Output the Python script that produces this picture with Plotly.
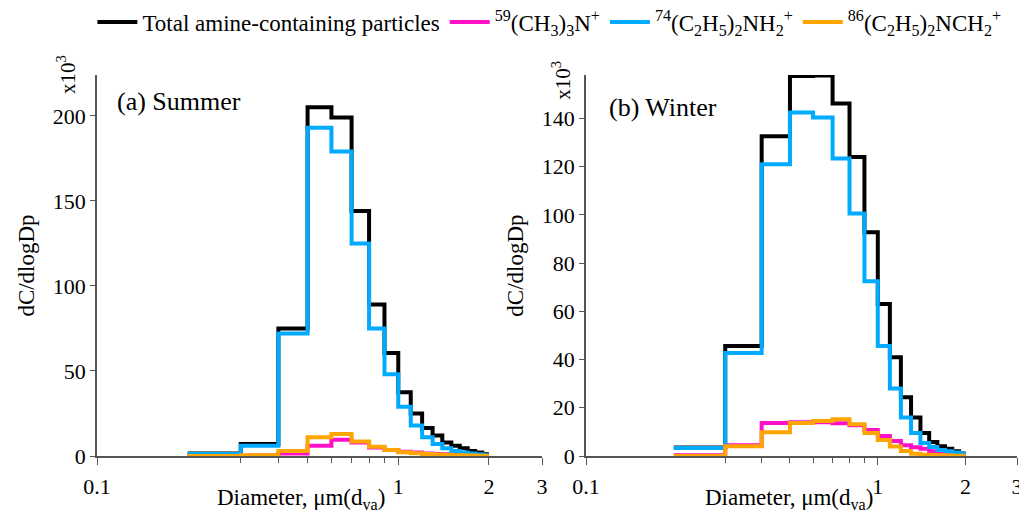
import plotly.graph_objects as go
from plotly.subplots import make_subplots

# ---------------- data ----------------
bin_edges = [0.2, 0.3, 0.4, 0.5, 0.6, 0.7, 0.8, 0.9, 1.0, 1.1, 1.2, 1.3, 1.4,
             1.5, 1.6, 1.7, 1.8, 1.9, 2.0]

series_names = [
    "Total amine-containing particles",
    "<sup>59</sup>(CH<sub>3</sub>)<sub>3</sub>N<sup>+</sup>",
    "<sup>74</sup>(C<sub>2</sub>H<sub>5</sub>)<sub>2</sub>NH<sub>2</sub><sup>+</sup>",
    "<sup>86</sup>(C<sub>2</sub>H<sub>5</sub>)<sub>2</sub>NCH<sub>2</sub><sup>+</sup>",
]
series_colors = ["#000000", "#FF10C8", "#00AAFF", "#FFA500"]

# Summer (x10^3)
summer_total = [1.5, 7, 75, 205, 199, 144, 89, 60.5, 37.5, 25, 16.5, 12, 8, 6, 4.5, 3, 2, 1]
summer_59 = [0, 0.3, 1.5, 6, 9.5, 8, 5, 3.5, 2.5, 2, 1.5, 1.2, 1, 0.8, 0.6, 0.4, 0.3, 0.2]
summer_74 = [1.2, 6, 72, 193, 179, 125, 75, 48, 29, 18, 11, 7, 4.5, 3, 2, 1.5, 1, 0.5]
summer_86 = [0, 0.5, 3, 11, 13, 8.5, 5.5, 3.5, 2.2, 1.6, 1.2, 0.9, 0.7, 0.5, 0.4, 0.3, 0.2, 0.1]

# Winter (x10^3)
winter_total = [3.5, 45.6, 132.6, 157.6, 157.8, 146.2, 124, 92.8, 63, 41, 24.4, 16, 9.5, 5.8, 4, 3, 2, 1]
winter_59 = [0.3, 4.5, 13.7, 14, 14, 13.6, 12.8, 10.8, 8.3, 6.2, 4.5, 3.6, 3, 2, 1.2, 0.8, 0.5, 0.3]
winter_74 = [3.3, 42.7, 121, 142.5, 140.4, 123.4, 100.6, 72.5, 45.6, 28, 16, 9.5, 5.4, 3.7, 2.5, 2, 1.5, 1]
winter_86 = [0, 4, 9.9, 13.7, 14.5, 15.2, 13.2, 9.5, 6.6, 3.9, 2.1, 0.9, 0.5, 0.4, 0.3, 0.2, 0.1, 0.1]

x_tick_vals = [0.1, 1, 2, 3]
x_tick_text = ["0.1", "1", "2", "3"]
x_minor_vals = [0.3, 0.4, 0.5, 0.6, 0.7, 0.8, 0.9]
summer_y_ticks = [0, 50, 100, 150, 200]
winter_y_ticks = [0, 20, 40, 60, 80, 100, 120, 140]
panel_labels = ["(a) Summer", "(b) Winter"]

FONT = "Liberation Serif, Times New Roman, Times, serif"
PAGE_OFFSET = 8  # default body margin of the html page
W, H = 1027 - PAGE_OFFSET, 514 - PAGE_OFFSET

fig = make_subplots(rows=1, cols=2, horizontal_spacing=0.05)

panels = [
    [summer_total, summer_59, summer_74, summer_86],
    [winter_total, winter_59, winter_74, winter_86],
]

for col, data in enumerate(panels, start=1):
    for i, vals in enumerate(data):
        fig.add_trace(
            go.Scatter(
                x=bin_edges,
                y=list(vals) + [vals[-1]],
                mode="lines",
                line=dict(color=series_colors[i], width=4, shape="hv"),
                name=series_names[i],
                legendgroup=str(i),
                showlegend=(col == 1),
                cliponaxis=False,
            ),
            row=1, col=col,
        )

axis_color = "#555555"
common_x = dict(
    type="log",
    range=[-1, 0.4771],
    tickmode="array",
    tickvals=x_tick_vals,
    ticktext=x_tick_text,
    ticks="outside",
    ticklen=7,
    tickcolor=axis_color,
    showline=True,
    linecolor=axis_color,
    linewidth=1.5,
    showgrid=False,
    zeroline=False,
    tickfont=dict(family=FONT, size=22, color="black"),
    ticklabelstandoff=3,
    minor=dict(tickvals=x_minor_vals, ticks="outside", ticklen=5, tickcolor=axis_color),
)
common_y = dict(
    ticks="outside",
    ticklen=5,
    tickcolor=axis_color,
    showline=True,
    linecolor=axis_color,
    linewidth=1.5,
    showgrid=False,
    zeroline=False,
    tickfont=dict(family=FONT, size=22, color="black"),
    title=dict(text="dC/dlogDp", font=dict(family=FONT, size=23, color="black"), standoff=12),
)

# target pixel positions in the 1027x514 frame, shifted by the page offset
L = 97 - PAGE_OFFSET
T = 75 - PAGE_OFFSET
R = W - (1017 - PAGE_OFFSET)
B = H - (456 - PAGE_OFFSET)
pw = W - L - R
left_dom = [0, (542 - 97) / pw]
right_dom = [(586 - 97) / pw, 1]

fig.update_xaxes(**common_x)
fig.update_xaxes(domain=left_dom, row=1, col=1)
fig.update_xaxes(domain=right_dom, row=1, col=2)
fig.update_yaxes(**common_y)
fig.update_yaxes(range=[0, 224], tickvals=summer_y_ticks, row=1, col=1)
fig.update_yaxes(range=[0, 158], tickvals=winter_y_ticks, row=1, col=2)

annots = []
annots.append(dict(text=panel_labels[0], xref="x domain", yref="y domain", x=0.04, y=0.93,
                   xanchor="left", yanchor="middle", showarrow=False,
                   font=dict(family=FONT, size=26, color="black")))
annots.append(dict(text=panel_labels[1], xref="x2 domain", yref="y2 domain", x=0.049, y=0.915,
                   xanchor="left", yanchor="middle", showarrow=False,
                   font=dict(family=FONT, size=26, color="black")))
annots.append(dict(text="x10<sup>3</sup>", xref="x domain", yref="y domain", x=0, y=1.0,
                   xshift=-31, yanchor="middle", xanchor="center", textangle=-90, showarrow=False,
                   font=dict(family=FONT, size=21, color="black")))
annots.append(dict(text="x10<sup>3</sup>", xref="x2 domain", yref="y2 domain", x=0, y=0.985,
                   xshift=-24, yanchor="middle", xanchor="center", textangle=-90, showarrow=False,
                   font=dict(family=FONT, size=21, color="black")))
xtitle = "Diameter, \u03bcm(d<sub>va</sub>)"
annots.append(dict(text=xtitle, xref="x domain", yref="paper", x=0.458, y=0, yshift=-43,
                   xanchor="center", yanchor="middle", showarrow=False,
                   font=dict(family=FONT, size=23, color="black")))
annots.append(dict(text=xtitle, xref="x2 domain", yref="paper", x=0.471, y=0, yshift=-43,
                   xanchor="center", yanchor="middle", showarrow=False,
                   font=dict(family=FONT, size=23, color="black")))

fig.update_layout(
    width=W, height=H,
    margin=dict(l=L, r=R, t=T, b=B, autoexpand=False),
    paper_bgcolor="white",
    plot_bgcolor="white",
    font=dict(family=FONT, size=22, color="black"),
    annotations=annots,
    legend=dict(
        orientation="h",
        x=-0.005, xanchor="left",
        y=1.139, yanchor="middle",
        font=dict(family=FONT, size=23, color="black"),
        itemwidth=40,
        tracegroupgap=0,
        bgcolor="rgba(0,0,0,0)",
    ),
)

fig.write_html("out.html")
